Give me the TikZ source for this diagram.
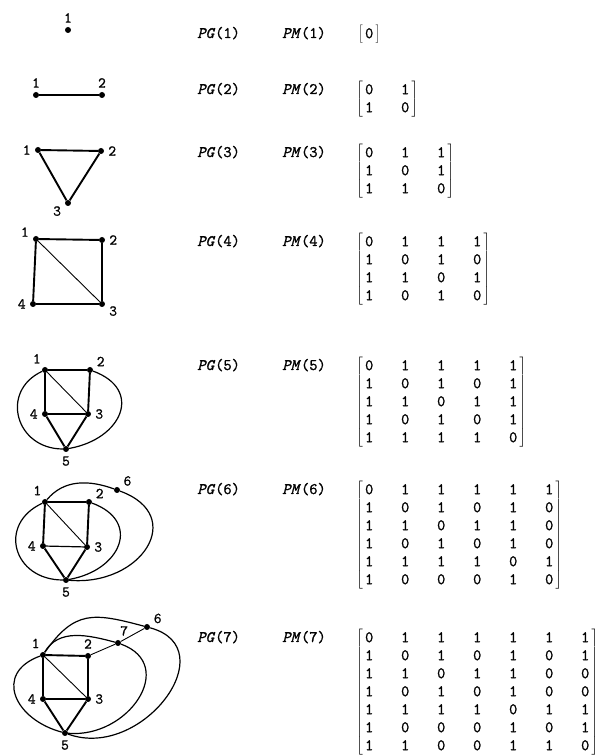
\documentclass[tikz,border=0pt]{standalone}
\usepackage{fontspec}
\setmonofont{Latin Modern Mono}[FakeBold=1.2]
\usepackage{tikz}
\usetikzlibrary{matrix}

\newcommand\pmfont{\fontsize{16}{18}\selectfont\ttfamily}
\newcommand\lblfont{\fontsize{15}{17}\selectfont\ttfamily}

\begin{document}
\begin{tikzpicture}[
    x=1pt,y=1pt,
    vtx/.style={circle,fill=black,inner sep=0pt,minimum size=6pt},
    every label/.style={font=\lblfont,inner sep=1pt},
    label distance=3pt,
    heavy/.style={line width=1.9pt},
    light/.style={line width=0.9pt},
    curveline/.style={line width=1.2pt},
    gname/.style={font=\pmfont,anchor=west,inner sep=0pt,text height=13pt,text depth=5pt},
    pmat/.style={matrix of nodes,inner sep=0.5pt,column sep=27pt,row sep=0pt,anchor=north west,
      nodes={font=\pmfont,inner sep=0pt,minimum width=9pt,text height=13pt,text depth=5pt},
      left delimiter={[},right delimiter={]}}
  ]
    \useasboundingbox (0,0) rectangle (600,755);

    % PG(1)
    \node[vtx,label=above:1] (g1n1) at (68,725) {};

    % PG(2)
    \node[vtx,label=above:1] (g2n1) at (36,660) {};
    \node[vtx,label=above:2] (g2n2) at (102,660) {};
    \draw[line width=1.4pt] (g2n1) -- (g2n2);

    % PG(3)
    \node[vtx,label=left:1] (g3n1) at (38,605) {};
    \node[vtx,label=right:2] (g3n2) at (101,604) {};
    \node[vtx,label=200:3] (g3n3) at (68,552) {};
    \draw[heavy] (g3n1) -- (g3n2) -- (g3n3) -- (g3n1);

    % PG(4)
    \node[vtx,label=170:1] (g4n1) at (36,516) {};
    \node[vtx,label=right:2] (g4n2) at (102,515) {};
    \node[vtx,label=-10:3] (g4n3) at (102,451) {};
    \node[vtx,label=left:4] (g4n4) at (33,451) {};
    \draw[heavy] (g4n1) -- (g4n2) -- (g4n3) -- (g4n4) -- (g4n1);
    \draw[light] (g4n1) -- (g4n3);

    % PG(5)
    \node[vtx,label=120:1] (g5n1) at (45,385) {};
    \node[vtx,label=25:2] (g5n2) at (90,385) {};
    \node[vtx,label=right:3] (g5n3) at (88,341) {};
    \node[vtx,label=left:4] (g5n4) at (45,341) {};
    \node[vtx,label=below:5] (g5n5) at (66,306) {};
    \draw[heavy] (g5n4) -- (g5n1) -- (g5n2) -- (g5n3) -- (g5n5) -- (g5n4);
    \draw[curveline] (g5n4) -- (g5n3);
    \draw[light] (g5n1) -- (g5n3);
    \draw[curveline] (g5n1) to[out=205,in=180,looseness=1.5] (g5n5);
    \draw[curveline] (g5n2) to[out=-20,in=10,looseness=1.7] (g5n5);

    % PG(6)
    \node[vtx,label=115:1] (g6n1) at (45,253) {};
    \node[vtx,label=25:2] (g6n2) at (89,253) {};
    \node[vtx,label=right:3] (g6n3) at (87,208) {};
    \node[vtx,label=left:4] (g6n4) at (43,209) {};
    \node[vtx,label=below:5] (g6n5) at (66,175) {};
    \node[vtx,label=30:6] (g6n6) at (117,265) {};
    \draw[heavy] (g6n4) -- (g6n1) -- (g6n2) -- (g6n3) -- (g6n5) -- (g6n4);
    \draw[curveline] (g6n4) -- (g6n3);
    \draw[light] (g6n1) -- (g6n3);
    \draw[curveline] (g6n1) to[out=205,in=180,looseness=1.6] (g6n5);
    \draw[curveline] (g6n2) to[out=-20,in=10,looseness=1.7] (g6n5);
    \draw[curveline] (g6n1) to[out=50,in=160] (g6n6);
    \draw[curveline] (g6n6) to[out=-20,in=-5,looseness=1.8] (g6n5);

    % PG(7)
    \node[vtx,label=112:1] (g7n1) at (43,100) {};
    \node[vtx,label=above:2] (g7n2) at (88,99) {};
    \node[vtx,label=right:3] (g7n3) at (88,56) {};
    \node[vtx,label=left:4] (g7n4) at (43,56) {};
    \node[vtx,label=below:5] (g7n5) at (65,22) {};
    \node[vtx,label=25:6] (g7n6) at (147,128) {};
    \node[vtx,label=80:7] (g7n7) at (118,112) {};
    \draw[heavy] (g7n4) -- (g7n1) -- (g7n2) -- (g7n3) -- (g7n5) -- (g7n4) -- (g7n3);
    \draw[light] (g7n1) -- (g7n3);
    \draw[light] (g7n2) -- (g7n7) -- (g7n6);
    \draw[curveline] (g7n1) to[out=200,in=165,looseness=1.6] (g7n5);
    \draw[curveline] (g7n1) to[out=60,in=165] (g7n7);
    \draw[curveline] (g7n7) to[out=-20,in=-5,looseness=1.5] (g7n5);
    \draw[curveline] (g7n1) to[out=55,in=165,looseness=1.3] (g7n6);
    \draw[curveline] (g7n6) to[out=-15,in=-20,looseness=1.5] (g7n5);

    % names
    \node[gname] (pg1) at (197,721) {\textit{PG}(1)};
    \node[gname] (pg2) at (197,665) {\textit{PG}(2)};
    \node[gname] (pg3) at (197,602) {\textit{PG}(3)};
    \node[gname] (pg4) at (197,513) {\textit{PG}(4)};
    \node[gname] (pg5) at (197,389) {\textit{PG}(5)};
    \node[gname] (pg6) at (197,265) {\textit{PG}(6)};
    \node[gname] (pg7) at (197,117) {\textit{PG}(7)};
    \node[gname] (pm1) at (282,721) {\textit{PM}(1)};
    \node[gname] (pm2) at (282,665) {\textit{PM}(2)};
    \node[gname] (pm3) at (282,602) {\textit{PM}(3)};
    \node[gname] (pm4) at (282,513) {\textit{PM}(4)};
    \node[gname] (pm5) at (282,389) {\textit{PM}(5)};
    \node[gname] (pm6) at (282,265) {\textit{PM}(6)};
    \node[gname] (pm7) at (282,117) {\textit{PM}(7)};

    % matrices
    \matrix[pmat] (m1) at (364,730.5) {0\\};
    \matrix[pmat] (m2) at (364,674.5) {0 & 1\\ 1 & 0\\};
    \matrix[pmat] (m3) at (364,611.5) {0 & 1 & 1\\ 1 & 0 & 1\\ 1 & 1 & 0\\};
    \matrix[pmat] (m4) at (364,522.5) {0 & 1 & 1 & 1\\ 1 & 0 & 1 & 0\\ 1 & 1 & 0 & 1\\ 1 & 0 & 1 & 0\\};
    \matrix[pmat] (m5) at (364,398.5) {0 & 1 & 1 & 1 & 1\\ 1 & 0 & 1 & 0 & 1\\ 1 & 1 & 0 & 1 & 1\\ 1 & 0 & 1 & 0 & 1\\ 1 & 1 & 1 & 1 & 0\\};
    \matrix[pmat] (m6) at (364,274.5) {0 & 1 & 1 & 1 & 1 & 1\\ 1 & 0 & 1 & 0 & 1 & 0\\ 1 & 1 & 0 & 1 & 1 & 0\\ 1 & 0 & 1 & 0 & 1 & 0\\ 1 & 1 & 1 & 1 & 0 & 1\\ 1 & 0 & 0 & 0 & 1 & 0\\};
    \matrix[pmat] (m7) at (364,126.5) {0 & 1 & 1 & 1 & 1 & 1 & 1\\ 1 & 0 & 1 & 0 & 1 & 0 & 1\\ 1 & 1 & 0 & 1 & 1 & 0 & 0\\ 1 & 0 & 1 & 0 & 1 & 0 & 0\\ 1 & 1 & 1 & 1 & 0 & 1 & 1\\ 1 & 0 & 0 & 0 & 1 & 0 & 1\\ 1 & 1 & 0 & 0 & 1 & 1 & 0\\};
\end{tikzpicture}
\end{document}
